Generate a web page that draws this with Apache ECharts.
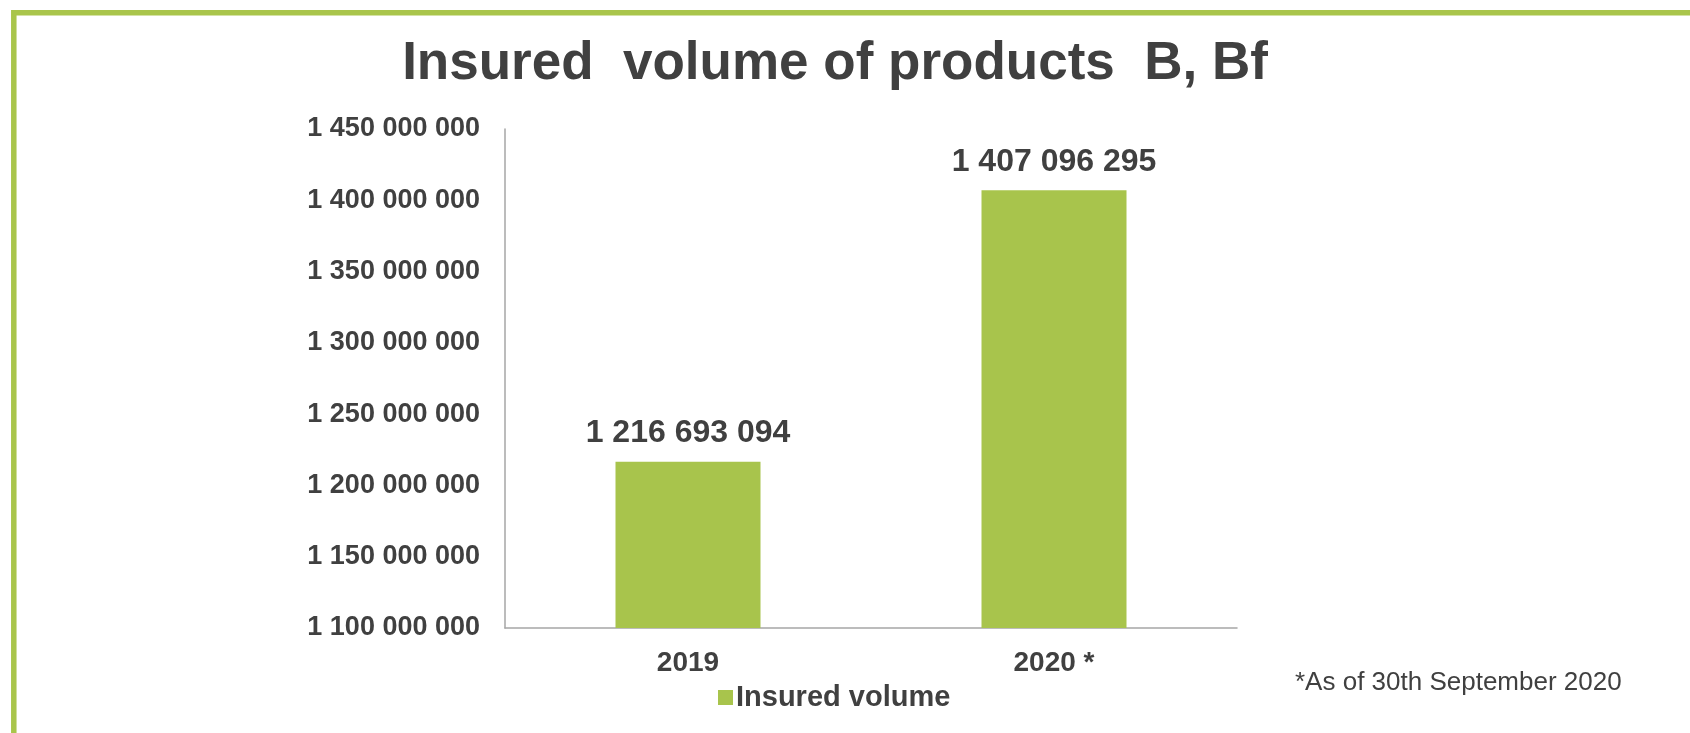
<!DOCTYPE html>
<html>
<head>
<meta charset="utf-8">
<script src="https://cdn.jsdelivr.net/npm/echarts@6/dist/echarts.min.js"></script>
<style>
html,body{margin:0;padding:0;background:#fff;}
#chart{width:1690px;height:733px;}
</style>
</head>
<body>
<div id="chart"></div>
<script>
const categories = ['2019', '2020 *'];
const seriesName = 'Insured volume';
const insuredVolume = [1216693094, 1407096295];
const yMin = 1100000000;
const yMax = 1450000000;
const yStep = 50000000;
const titleText = 'Insured  volume of products  B, Bf';
const footnote = '*As of 30th September 2020';

const green = '#A8C44C';
const textColor = '#404040';
const fontFamily = '"Liberation Sans", Arial, sans-serif';

function fmt(v) {
  return String(Math.round(v)).replace(/\B(?=(\d{3})+(?!\d))/g, ' ');
}

const chart = echarts.init(document.getElementById('chart'), null, {renderer: 'canvas'});
chart.setOption({
  backgroundColor: '#ffffff',
  animation: false,
  title: {
    text: titleText,
    left: 830,
    textAlign: 'center',
    top: 33,
    textStyle: {fontFamily: fontFamily, fontSize: 53, fontWeight: 'bold', color: textColor}
  },
  legend: {
    data: [seriesName],
    left: 713,
    top: 678,
    icon: 'rect',
    itemWidth: 15,
    itemHeight: 15,
    itemGap: 10,
    textStyle: {fontFamily: fontFamily, fontSize: 29, fontWeight: 'bold', color: textColor, padding: [0, 0, 0, -2]}
  },
  grid: {left: 505, right: 453, top: 129, bottom: 105, containLabel: false},
  xAxis: {
    type: 'category',
    data: categories,
    axisLine: {show: true, lineStyle: {color: '#a6a6a6', width: 1.5}},
    axisTick: {show: false},
    axisLabel: {margin: 21, fontFamily: fontFamily, fontSize: 28, fontWeight: 'bold', color: textColor}
  },
  yAxis: {
    type: 'value',
    min: yMin,
    max: yMax,
    interval: yStep,
    axisLine: {show: true, lineStyle: {color: '#a6a6a6', width: 1.5}},
    axisTick: {show: false},
    splitLine: {show: false},
    axisLabel: {
      margin: 25,
      fontFamily: fontFamily, fontSize: 27, fontWeight: 'bold', color: textColor,
      formatter: fmt
    }
  },
  series: [{
    name: seriesName,
    type: 'bar',
    data: insuredVolume,
    barWidth: 145,
    itemStyle: {color: green},
    label: {
      show: true,
      position: 'top',
      distance: 12,
      fontFamily: fontFamily, fontSize: 32, fontWeight: 'bold', color: textColor,
      formatter: p => fmt(p.value)
    }
  }],
  graphic: [
    {
      type: 'rect',
      shape: {x: 13.8, y: 12.8, width: 3000, height: 3000},
      style: {fill: 'none', stroke: '#A9C54B', lineWidth: 5.5},
      silent: true
    },
    {
      type: 'text',
      left: 1295,
      top: 670,
      style: {text: footnote, fontFamily: fontFamily, fontSize: 26, fill: textColor}
    }
  ]
});
</script>
</body>
</html>
